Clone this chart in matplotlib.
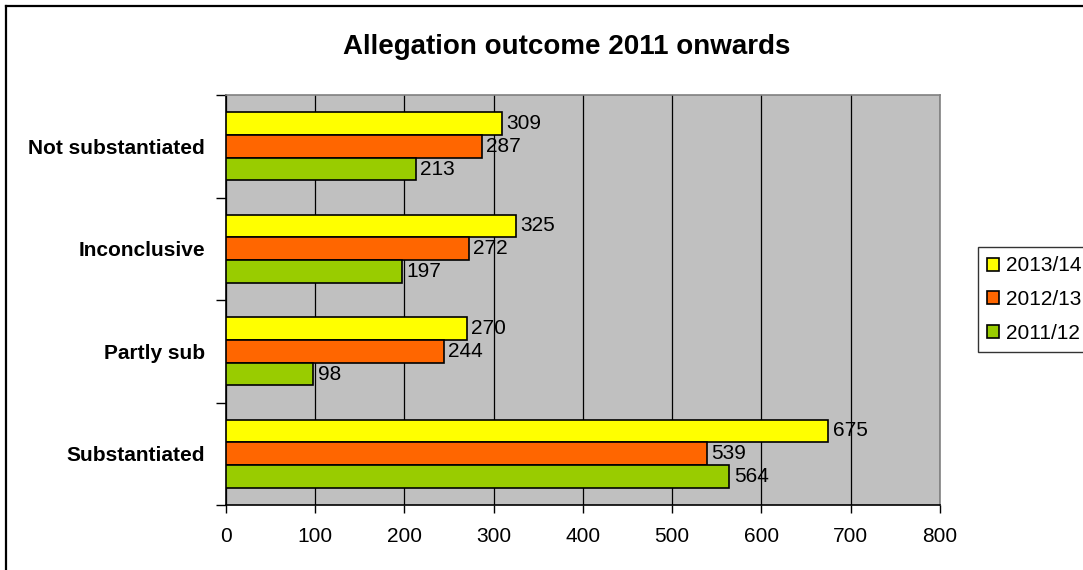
import matplotlib
matplotlib.use("Agg")
import matplotlib.pyplot as plt
import numpy as np
from matplotlib.lines import Line2D

plt.rcParams["font.family"] = ["Liberation Sans", "DejaVu Sans"]

# ── Data ──────────────────────────────────────────────
categories = ["Substantiated", "Partly sub", "Inconclusive", "Not substantiated"]
years = ["2013/14", "2012/13", "2011/12"]
v_2013 = [675, 270, 325, 309]
v_2012 = [539, 244, 272, 287]
v_2011 = [564, 98, 197, 213]
x_ticks = [0, 100, 200, 300, 400, 500, 600, 700, 800]

YELLOW = "#FFFF00"
ORANGE = "#FF6600"
GREEN = "#99CC00"
PLOT_BG = "#C0C0C0"

W, H = 1083, 570
fig = plt.figure(figsize=(W / 100, H / 100), dpi=100)
fig.set_facecolor("white")

ax = fig.add_axes([225.7 / W, 1 - 505 / H, (940 - 225.7) / W, (505 - 95) / H])
ax.set_facecolor(PLOT_BG)

y = np.arange(len(categories))
bh = 0.222
series = [(v_2013, YELLOW, bh), (v_2012, ORANGE, 0.0), (v_2011, GREEN, -bh)]

for (vals, col, off), lab in zip(series, years):
    bars = ax.barh(y + off, vals, height=bh, color=col, edgecolor="black",
                   linewidth=1.2, label=lab, zorder=3)
    for b, v in zip(bars, vals):
        ax.text(b.get_width() + 5, b.get_y() + b.get_height() / 2, str(v),
                ha="left", va="center", fontsize=15, color="black", zorder=4)

ax.set_xlim(0, 800)
ax.set_ylim(-0.5, 3.5)
ax.set_xticks(x_ticks)
ax.set_xticklabels([str(t) for t in x_ticks], fontsize=15)
ax.tick_params(axis="x", direction="out", length=6, width=1, pad=10)

ax.set_yticks(y)
ax.set_yticklabels(categories, fontsize=15, fontweight="bold")
ax.tick_params(axis="y", which="major", length=0, pad=15)
ax.set_yticks(np.arange(-0.5, 4, 1), minor=True)
ax.tick_params(axis="y", which="minor", direction="out", length=7, width=1)

ax.grid(axis="x", color="black", linewidth=0.9, zorder=1)
ax.grid(axis="y", visible=False)
ax.set_axisbelow(True)

ax.spines["left"].set_color("black")
ax.spines["bottom"].set_color("black")
ax.spines["top"].set_color("#808080")
ax.spines["right"].set_color("#808080")
for s in ax.spines.values():
    s.set_linewidth(1.2)

fig.text(567 / W, 1 - 47 / H, "Allegation outcome 2011 onwards",
         ha="center", va="center", fontsize=20, fontweight="bold")

leg = fig.legend(loc="upper left", bbox_to_anchor=(978 / W, 1 - 247 / H),
                 borderaxespad=0, fontsize=15, frameon=True, fancybox=False,
                 handlelength=0.58, handleheight=0.58, handletextpad=0.3,
                 labelspacing=0.7, borderpad=0.45)
leg.get_frame().set_edgecolor("black")
leg.get_frame().set_linewidth(1.0)

# outer chart border (left and top edges only are visible)
fig.add_artist(Line2D([6 / W, 6 / W], [0, 1 - 6 / H], color="black", linewidth=1.6))
fig.add_artist(Line2D([6 / W, 1], [1 - 6 / H, 1 - 6 / H], color="black", linewidth=1.6))

fig.savefig("out.png", dpi=100)
